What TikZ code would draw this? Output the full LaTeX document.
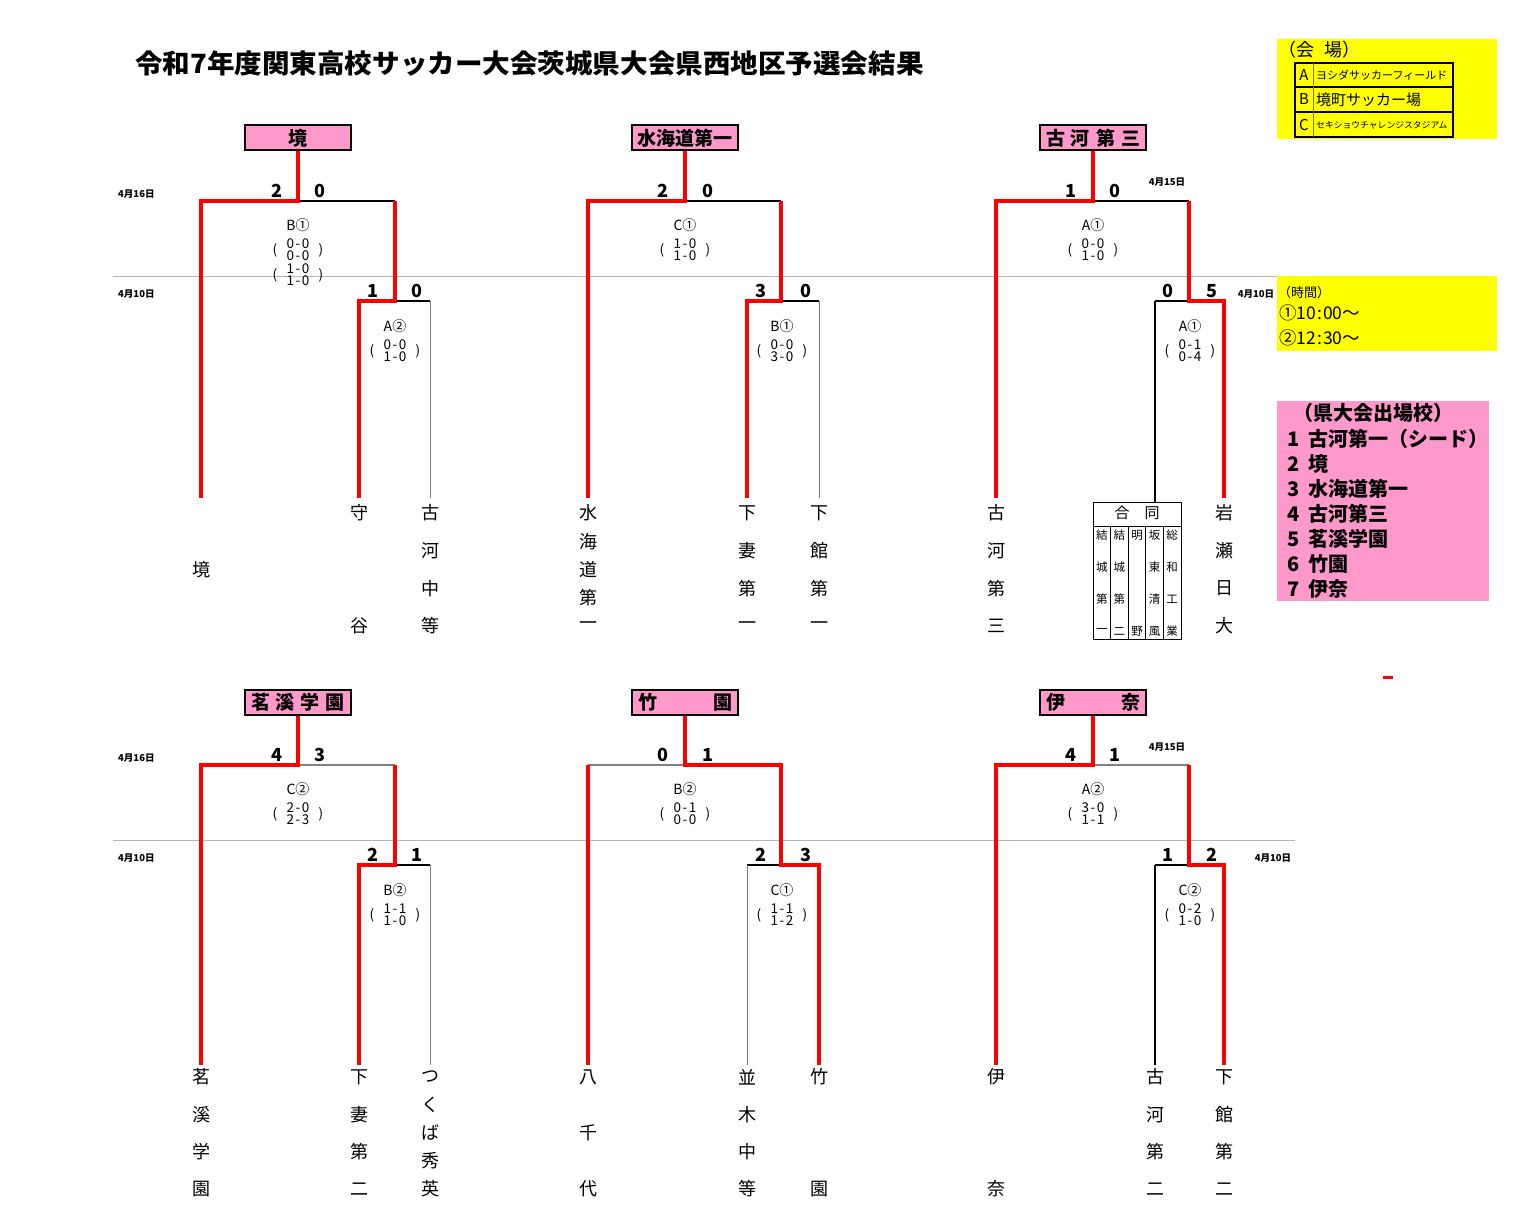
\documentclass[tikz,border=0pt]{standalone}
\usepackage{fontspec}
\setmainfont{Noto Sans CJK JP}
\definecolor{redc}{HTML}{FF0000}
\definecolor{pinkc}{HTML}{FF99CC}
\definecolor{yellowc}{HTML}{FFFF00}
\definecolor{linegray}{HTML}{B4B4B4}
\newcommand\myfs[1]{\fontsize{#1}{#1}\selectfont}
\newcommand\sco[2]{#1\kern1.6pt-\kern1.6pt#2}
\tikzset{
 winbox/.style={draw=black, line width=2pt, fill=pinkc, minimum width=106pt, minimum height=25pt, inner sep=0pt, font=\bfseries\myfs{19}},
 win/.style={draw=redc, line width=3.5pt, line join=miter},
 lose/.style={draw=black, line width=1.6pt},
 leg/.style={draw=gray, line width=1pt},
 legk/.style={draw=black, line width=1.2pt},
 tn/.style={inner sep=0pt, font=\myfs{18}},
 sc/.style={inner sep=0pt, font=\bfseries\myfs{18}},
 ml/.style={inner sep=0pt, font=\myfs{14}},
 ms/.style={inner sep=0pt, font=\myfs{13.5}},
 dt/.style={inner sep=0pt, font=\bfseries\myfs{9.5}},
 gc/.style={inner sep=0pt, font=\myfs{11.5}},
 pk/.style={inner sep=0pt, anchor=west, font=\bfseries\myfs{20}},
}
% id x y label s1 s2
\newcommand\mlab[6]{%
 \node[ml] (#1) at (#2,#3) {#4};
 \node[ms] (#1-a) at (#2,#3+19) {\sco#5};
 \node[ms] (#1-b) at (#2,#3+31) {\sco#6};
 \node[ms] (#1-p) at (#2-23,#3+25) {(};
 \node[ms] (#1-q) at (#2+23,#3+25) {)};
}
% id x y0 dy list
\newcommand\vname[5]{%
 \foreach \c [count=\i] in {#5} \node[tn] (#1-\i) at (#2,{#3+(\i-1)*#4}) {\c};
}
% id cx L R SL SR T S E
\newcommand\brc[9]{%
 \coordinate (#1-t) at (#2,#7);
 \coordinate (#1-l) at (#3,#7);
 \coordinate (#1-lb) at (#3,#9);
 \coordinate (#1-r) at (#4,#7);
 \coordinate (#1-rs) at (#4,#8);
 \coordinate (#1-sl) at (#5,#8);
 \coordinate (#1-slb) at (#5,#9);
 \coordinate (#1-sr) at (#6,#8);
 \coordinate (#1-srb) at (#6,#9);
}
\begin{document}
\begin{tikzpicture}[x=1pt,y=-1pt]
\useasboundingbox (0,0) rectangle (1523,1220);

% title
\node[inner sep=0pt, anchor=west, font=\bfseries\myfs{26.5}] (title) at (135,63) {\scalebox{1.04}[1]{令和7年度関東高校サッカー大会茨城県大会県西地区予選会結果}};

% gray day lines
\coordinate (g1a) at (113,276); \coordinate (g1b) at (1277,276);
\coordinate (g2a) at (113,840); \coordinate (g2b) at (1295,840);
\draw[linegray, line width=1pt] (g1a) -- (g1b);
\draw[linegray, line width=1pt] (g2a) -- (g2b);

% date labels
\node[dt, anchor=west] (d1) at (118,194) {4月16日};
\node[dt, anchor=west] (d2) at (118,294) {4月10日};
\node[dt] (d3) at (1167,182) {4月15日};
\node[dt] (d4) at (1256,294) {4月10日};
\node[dt, anchor=west] (d5) at (118,758) {4月16日};
\node[dt, anchor=west] (d6) at (118,858) {4月10日};
\node[dt] (d7) at (1167,747) {4月15日};
\node[dt] (d8) at (1273,858) {4月10日};

% ---------- bracket coordinates
\brc{b1}{298}{201}{395}{359}{430}{201}{301}{498}
\brc{b2}{685}{588}{781}{747}{819}{201}{301}{498}
\brc{b3}{1093}{996}{1189}{1155}{1224}{201}{301}{498}
\brc{b4}{298}{201}{395}{359}{430}{765}{865}{1065}
\brc{b5}{685}{588}{781}{747}{819}{765}{865}{1065}
\brc{b6}{1093}{996}{1189}{1155}{1224}{765}{865}{1065}

% winner boxes
\node[winbox] (w1) at (298,138) {境};
\node[winbox] (w2) at (685,138) {水海道第一};
\node[winbox] (w3) at (1093,138) {\makebox[94pt][s]{古\hfill 河\hfill 第\hfill 三}};
\node[winbox] (w4) at (298,702) {\makebox[94pt][s]{茗\hfill 溪\hfill 学\hfill 園}};
\node[winbox] (w5) at (685,702) {\makebox[94pt][s]{竹\hfill 園}};
\node[winbox] (w6) at (1093,702) {\makebox[94pt][s]{伊\hfill 奈}};

% bracket 1
\draw[lose] (b1-t) -- (b1-r);
\draw[lose] (b1-rs) -- (b1-sr);
\draw[leg] (b1-sr) -- (b1-srb);
\draw[win] (w1.south) -- (b1-t) -- (b1-l) -- (b1-lb);
\draw[win] (b1-r) -- (b1-rs) -- (b1-sl) -- (b1-slb);
% bracket 2
\draw[lose] (b2-t) -- (b2-r);
\draw[lose] (b2-rs) -- (b2-sr);
\draw[leg] (b2-sr) -- (b2-srb);
\draw[win] (w2.south) -- (b2-t) -- (b2-l) -- (b2-lb);
\draw[win] (b2-r) -- (b2-rs) -- (b2-sl) -- (b2-slb);
% bracket 3
\draw[lose] (b3-t) -- (b3-r);
\draw[lose] (b3-rs) -- (b3-sl);
\coordinate (b3-slg) at (1155,502);
\draw[legk] (b3-sl) -- (b3-slg);
\draw[win] (w3.south) -- (b3-t) -- (b3-l) -- (b3-lb);
\draw[win] (b3-r) -- (b3-rs) -- (b3-sr) -- (b3-srb);
% bracket 4
\draw[leg, line width=1.6pt] (b4-t) -- (b4-r);
\draw[lose] (b4-rs) -- (b4-sr);
\draw[leg] (b4-sr) -- (b4-srb);
\draw[win] (w4.south) -- (b4-t) -- (b4-l) -- (b4-lb);
\draw[win] (b4-r) -- (b4-rs) -- (b4-sl) -- (b4-slb);
% bracket 5
\draw[leg, line width=1.6pt] (b5-t) -- (b5-l);
\draw[lose] (b5-rs) -- (b5-sl);
\draw[leg] (b5-sl) -- (b5-slb);
\draw[win] (b5-l) -- (b5-lb);
\draw[win] (w5.south) -- (b5-t) -- (b5-r) -- (b5-rs) -- (b5-sr) -- (b5-srb);
% bracket 6
\draw[leg, line width=1.6pt] (b6-t) -- (b6-r);
\draw[lose] (b6-rs) -- (b6-sl);
\draw[legk] (b6-sl) -- (b6-slb);
\draw[win] (w6.south) -- (b6-t) -- (b6-l) -- (b6-lb);
\draw[win] (b6-r) -- (b6-rs) -- (b6-sr) -- (b6-srb);

% scores
\node[sc] (s1a) at (277,191) {2}; \node[sc] (s1b) at (320,191) {0};
\node[sc] (s1c) at (373,291) {1}; \node[sc] (s1d) at (417,291) {0};
\node[sc] (s2a) at (663,191) {2}; \node[sc] (s2b) at (708,191) {0};
\node[sc] (s2c) at (761,291) {3}; \node[sc] (s2d) at (806,291) {0};
\node[sc] (s3a) at (1071,191) {1}; \node[sc] (s3b) at (1115,191) {0};
\node[sc] (s3c) at (1168,291) {0}; \node[sc] (s3d) at (1212,291) {5};
\node[sc] (s4a) at (277,755) {4}; \node[sc] (s4b) at (320,755) {3};
\node[sc] (s4c) at (373,855) {2}; \node[sc] (s4d) at (417,855) {1};
\node[sc] (s5a) at (663,755) {0}; \node[sc] (s5b) at (708,755) {1};
\node[sc] (s5c) at (761,855) {2}; \node[sc] (s5d) at (806,855) {3};
\node[sc] (s6a) at (1071,755) {4}; \node[sc] (s6b) at (1115,755) {1};
\node[sc] (s6c) at (1168,855) {1}; \node[sc] (s6d) at (1212,855) {2};

% match labels
\mlab{m1}{298}{225}{B①}{00}{00}
\node[ms] (m1-c) at (298,269) {\sco10};
\node[ms] (m1-d) at (298,281) {\sco10};
\node[ms] (m1-e) at (275,275) {(};
\node[ms] (m1-f) at (321,275) {)};
\mlab{m2}{395}{326}{A②}{00}{10}
\mlab{m3}{685}{225}{C①}{10}{10}
\mlab{m4}{782}{326}{B①}{00}{30}
\mlab{m5}{1093}{225}{A①}{00}{10}
\mlab{m6}{1190}{326}{A①}{01}{04}
\mlab{m7}{298}{789}{C②}{20}{23}
\mlab{m8}{395}{890}{B②}{11}{10}
\mlab{m9}{685}{789}{B②}{01}{00}
\mlab{m10}{782}{890}{C①}{11}{12}
\mlab{m11}{1093}{789}{A②}{30}{11}
\mlab{m12}{1190}{890}{C②}{02}{10}

% team names top
\node[tn] (t-sakai) at (201,570) {境};
\vname{t-moriya}{359}{513}{113}{守,谷}
\vname{t-kogachu}{430}{513}{37.7}{古,河,中,等}
\vname{t-mitsu}{588}{513}{28.25}{水,海,道,第,一}
\vname{t-shimo1}{747}{513}{37.7}{下,妻,第,一}
\vname{t-shimokan1}{819}{513}{37.7}{下,館,第,一}
\vname{t-koga3}{996}{513}{37.7}{古,河,第,三}
\vname{t-iwase}{1224}{513}{37.7}{岩,瀬,日,大}
% team names bottom
\vname{t-meikei}{201}{1077}{37.3}{茗,溪,学,園}
\vname{t-shimo2}{359}{1077}{37.3}{下,妻,第,二}
\vname{t-tsukuba}{430}{1077}{28}{つ,く,ば,秀,英}
\vname{t-yachiyo}{588}{1077}{56}{八,千,代}
\vname{t-namiki}{747}{1077}{37.3}{並,木,中,等}
\vname{t-takezono}{819}{1077}{112}{竹,園}
\vname{t-ina}{996}{1077}{112}{伊,奈}
\vname{t-koga2}{1155}{1077}{37.3}{古,河,第,二}
\vname{t-shimokan2}{1224}{1077}{37.3}{下,館,第,二}

% joint team box
\node[draw=black, line width=1pt, minimum width=88pt, minimum height=137pt, anchor=north west, inner sep=0pt] (godo) at (1093,502) {};
\draw[black, line width=1pt] (1093,526) -- (1181,526);
\foreach \xx in {1110.6,1128.2,1145.8,1163.4} \draw[black, line width=1pt] (\xx,526) -- (\xx,639);
\node[inner sep=0pt, font=\myfs{15}] (godo-h) at (1137,513) {合\hspace{15pt}同};
\foreach \c [count=\i] in {結,城,第,一} \node[gc] (g1-\i) at (1101.8,{535+(\i-1)*32}) {\c};
\foreach \c [count=\i] in {結,城,第,二} \node[gc] (g2-\i) at (1119.4,{535+(\i-1)*32}) {\c};
\node[gc] (g3-1) at (1137,535) {明};
\node[gc] (g3-4) at (1137,631) {野};
\foreach \c [count=\i] in {坂,東,清,風} \node[gc] (g4-\i) at (1154.6,{535+(\i-1)*32}) {\c};
\foreach \c [count=\i] in {総,和,工,業} \node[gc] (g5-\i) at (1172.2,{535+(\i-1)*32}) {\c};

% venue legend
\fill[yellowc] (1277,39) rectangle (1497,139);
\node[inner sep=0pt, anchor=west, font=\myfs{18}] (ven) at (1278,50) {（会\hspace{10pt}場）};
\draw[black, line width=1.2pt] (1295,63) rectangle (1453,137);
\draw[black, line width=1.2pt] (1295,87) -- (1453,87);
\draw[black, line width=1.2pt] (1295,112) -- (1453,112);
\draw[black!60!yellow, line width=1pt] (1313,63) -- (1313,137);
\node[inner sep=0pt, font=\myfs{15}] (va) at (1304,75) {A};
\node[inner sep=0pt, font=\myfs{15}] (vb) at (1304,99.5) {B};
\node[inner sep=0pt, font=\myfs{15}] (vc) at (1304,125) {C};
\node[inner sep=0pt, anchor=west, font=\myfs{11}] (vat) at (1316,75) {ヨシダサッカーフィールド};
\node[inner sep=0pt, anchor=west, font=\myfs{15}] (vbt) at (1316,99.5) {境町サッカー場};
\node[inner sep=0pt, anchor=west, font=\myfs{8.8}] (vct) at (1316,125) {セキショウチャレンジスタジアム};

% time legend
\fill[yellowc] (1277,276) rectangle (1497,351);
\node[inner sep=0pt, anchor=west, font=\myfs{13}] (tm) at (1278,293) {（時間）};
\node[inner sep=0pt, anchor=west, font=\myfs{17.5}] (tm1) at (1279,313) {①10\kern1pt:\kern1pt00～};
\node[inner sep=0pt, anchor=west, font=\myfs{17.5}] (tm2) at (1279,338) {②12\kern1pt:\kern1pt30～};

% qualified schools
\fill[pinkc] (1277,401) rectangle (1489,601);
\node[pk] (q0) at (1293,413) {（県大会出場校）};
\node[pk] (q1) at (1287,438.5) {1\hspace{9pt}古河第一（シード）};
\node[pk] (q2) at (1287,464) {2\hspace{9pt}境};
\node[pk] (q3) at (1287,489) {3\hspace{9pt}水海道第一};
\node[pk] (q4) at (1287,514) {4\hspace{9pt}古河第三};
\node[pk] (q5) at (1287,539) {5\hspace{9pt}茗溪学園};
\node[pk] (q6) at (1287,564) {6\hspace{9pt}竹園};
\node[pk] (q7) at (1287,589) {7\hspace{9pt}伊奈};

% small red mark
\fill[redc] (1383,675.5) rectangle (1393,679);
\end{tikzpicture}
\end{document}
